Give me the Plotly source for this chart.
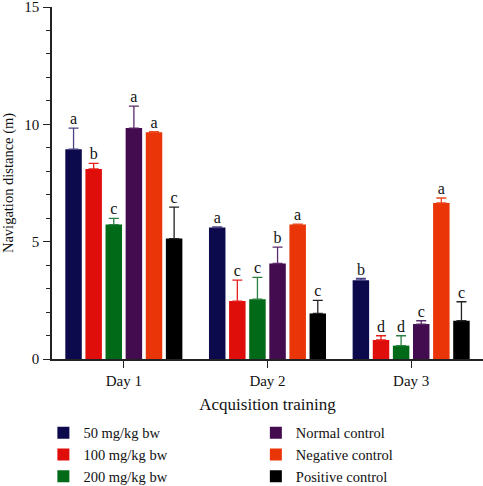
import plotly.graph_objects as go

days = ["Day 1", "Day 2", "Day 3"]
groups = ["50 mg/kg bw", "100 mg/kg bw", "200 mg/kg bw",
          "Normal control", "Negative control", "Positive control"]
colors = ["#0c0a4c", "#e00e0a", "#016a18", "#430c4f", "#e93508", "#000000"]
err_colors = ["#4a4385", "#e8201a", "#2a8040", "#5a2a6a", "#ee4a20", "#222222"]

mg50 = [8.94, 5.60, 3.36]
mg100 = [8.10, 2.47, 0.81]
mg200 = [5.73, 2.55, 0.57]
normal = [9.84, 4.07, 1.49]
negative = [9.66, 5.73, 6.65]
positive = [5.13, 1.94, 1.63]

err50 = [0.90, 0.03, 0.07]
err100 = [0.24, 0.89, 0.18]
err200 = [0.26, 0.93, 0.42]
errnormal = [0.94, 0.70, 0.14]
errnegative = [0.03, 0.02, 0.21]
errpositive = [1.34, 0.56, 0.81]

let50 = ["a", "a", "b"]
let100 = ["b", "c", "d"]
let200 = ["c", "c", "d"]
letnormal = ["a", "b", "c"]
letnegative = ["a", "a", "a"]
letpositive = ["c", "c", "c"]

values = [mg50, mg100, mg200, normal, negative, positive]
errors = [err50, err100, err200, errnormal, errnegative, errpositive]
letters = [let50, let100, let200, letnormal, letnegative, letpositive]

FONT = "Liberation Serif"
fig = go.Figure()
for i, (g, v, e, l, c) in enumerate(zip(groups, values, errors, letters, colors)):
    fig.add_trace(go.Bar(
        x=days, y=v, name=g, marker=dict(color=c, line=dict(width=0)),
        offsetgroup=str(i),
        error_y=dict(type="data", array=e, arrayminus=[0] * len(e), symmetric=False,
                     color=err_colors[i], thickness=1.3, width=5),
        legend="legend" if i < 3 else "legend2",
    ))
    fig.add_trace(go.Scatter(
        x=days, y=[a + b for a, b in zip(v, e)], mode="text", text=l,
        textposition="top center", offsetgroup=str(i), showlegend=False,
        textfont=dict(family=FONT, size=16, color="#111"), hoverinfo="skip",
    ))

fig.update_layout(
    width=483, height=486,
    margin=dict(l=52, r=0, t=7, b=127, autoexpand=False),
    plot_bgcolor="white", paper_bgcolor="white",
    barmode="group", bargap=0.16, bargroupgap=0.18,
    scattermode="group", scattergap=0.16,
    font=dict(family=FONT, size=15, color="#111"),
    xaxis=dict(range=[-0.5, 2.5], showline=True, linecolor="#222", linewidth=1.5,
               ticks="outside", ticklen=7, tickcolor="#222", tickwidth=1.2,
               title=dict(text="Acquisition training", font=dict(size=17), standoff=10),
               tickfont=dict(size=15), showgrid=False, zeroline=False, automargin=False),
    yaxis=dict(range=[0, 15], showline=True, linecolor="#222", linewidth=1.5,
               tickvals=[0, 5, 10, 15], ticks="outside", ticklen=7, tickcolor="#222",
               tickwidth=1.2, ticklabeloverflow="allow", ticklabelstandoff=1,
               minor=dict(dtick=1, ticks="outside", ticklen=4, tickcolor="#222", tickwidth=1.2),
               title=dict(text="Navigation distance (m)", font=dict(size=14.5), standoff=10),
               tickfont=dict(size=15), showgrid=False, zeroline=False, automargin=False),
    legend=dict(x=-0.020, y=-0.164, xanchor="left", yanchor="top",
                font=dict(size=14.5), bgcolor="rgba(0,0,0,0)", tracegroupgap=0),
    legend2=dict(x=0.473, y=-0.164, xanchor="left", yanchor="top",
                 font=dict(size=14.5), bgcolor="rgba(0,0,0,0)", tracegroupgap=0),
)
fig.write_html("out.html", config={"displayModeBar": False},
               post_script="document.body.style.margin='0';document.body.style.overflow='hidden';")
